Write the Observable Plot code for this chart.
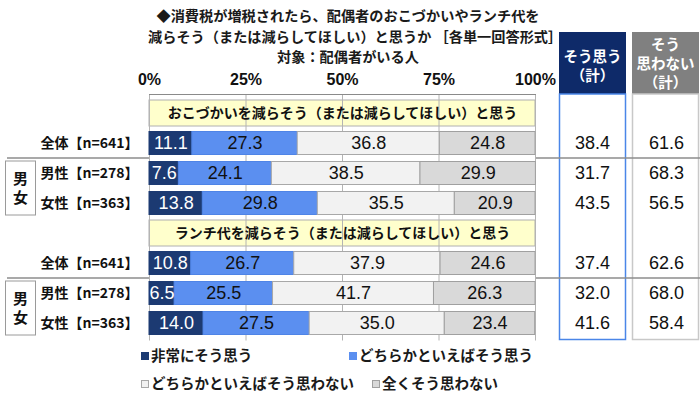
<!DOCTYPE html>
<html><head><meta charset="utf-8">
<script src="https://cdn.jsdelivr.net/npm/d3@7"></script>
<script src="https://cdn.jsdelivr.net/npm/@observablehq/plot@0.6"></script>
<style>
body{margin:0;background:#fff;}
#wrap{position:relative;width:700px;height:396px;overflow:hidden;background:#fff;}
.jp{font-family:"Noto Sans CJK JP",sans-serif;font-weight:700;color:#1a1a1a;}
#title{position:absolute;left:148px;width:400px;top:5px;text-align:center;font-size:14.2px;line-height:20.5px;white-space:nowrap;}
.leg{position:absolute;font-size:14.5px;white-space:nowrap;line-height:16px;}
.sw{display:inline-block;width:8px;height:8px;margin-right:2px;vertical-align:1px;box-sizing:border-box;border:1px solid;}
#chart{position:absolute;left:0;top:0;}
</style></head>
<body><div id="wrap"><div id="chart"></div></div>
<script>
// ---- data ----
const titleLines = [
  "◆消費税が増税されたら、配偶者のおこづかいやランチ代を",
  "減らそう（または減らしてほしい）と思うか ［各単一回答形式］",
  "対象：配偶者がいる人"
];
const questionLabels = [
  "おこづかいを減らそう（または減らしてほしい）と思う",
  "ランチ代を減らそう（または減らしてほしい）と思う"
];
const segmentLabels = ["全体【n=641】", "男性【n=278】", "女性【n=363】"];
const sexLabel = ["男", "女"];
const answerCategories = ["非常にそう思う", "どちらかといえばそう思う", "どちらかといえばそう思わない", "全くそう思わない"];
const okozukaiValues = [
  [11.1, 27.3, 36.8, 24.8],
  [7.6, 24.1, 38.5, 29.9],
  [13.8, 29.8, 35.5, 20.9]
];
const lunchValues = [
  [10.8, 26.7, 37.9, 24.6],
  [6.5, 25.5, 41.7, 26.3],
  [14.0, 27.5, 35.0, 23.4]
];
const okozukaiAgree = [38.4, 31.7, 43.5];
const okozukaiDisagree = [61.6, 68.3, 56.5];
const lunchAgree = [37.4, 32.0, 41.6];
const lunchDisagree = [62.6, 68.0, 58.4];
const xTicks = [0, 25, 50, 75, 100];
const agreeHeader = ["そう思う", "（計）"];
const disagreeHeader = ["そう", "思わない", "（計）"];

// ---- styles ----
const colors = ["#1c3a72", "#5b8ff0", "#f2f2f2", "#d9d9d9"];
const strokes = ["#1c3a72", "#4f84e6", "#a8a8a8", "#a0a0a0"];
const textColors = ["#ffffff", "#111111", "#111111", "#111111"];
const numFont = '"Liberation Sans Narrow", "Arial Narrow", "Liberation Sans", Arial, sans-serif';
const jpFont = '"Noto Sans CJK JP", sans-serif';

// ---- build tables ----
const groupValues = [okozukaiValues, lunchValues];
const groupAgree = [okozukaiAgree, lunchAgree];
const groupDisagree = [okozukaiDisagree, lunchDisagree];
const rowIds = [], headers = [], segs = [], rowsInfo = [];
questionLabels.forEach((q, g) => {
  rowIds.push(`h${g}`);
  headers.push({id: `h${g}`, text: q});
  segmentLabels.forEach((lab, r) => {
    const id = `r${g}-${r}`;
    rowIds.push(id);
    rowsInfo.push({id, label: lab, agree: groupAgree[g][r], disagree: groupDisagree[g][r]});
    let acc = 0;
    groupValues[g][r].forEach((v, c) => { segs.push({id, c, x1: acc, x2: acc + v, v}); acc += v; });
  });
});

const plot = Plot.plot({
  width: 700, height: 396,
  marginTop: 94.5, marginBottom: 55.5, marginLeft: 149, marginRight: 165,
  style: {background: "transparent", overflow: "visible"},
  x: {domain: [0, 100], axis: null},
  y: {type: "band", domain: rowIds, padding: 0, axis: null},
  color: {type: "identity"},
  marks: [
    Plot.barX(headers, {x1: 0, x2: 100, y: "id", fill: "#ffffcc", stroke: "#b0b0b0", insetTop: 2, insetBottom: 2}),
    Plot.ruleX(xTicks, {stroke: "#b4b4b4"}),
    Plot.barX(segs, {x1: "x1", x2: "x2", y: "id", fill: d => colors[d.c], stroke: d => strokes[d.c], strokeWidth: 1, insetTop: 3.5, insetBottom: 3.5}),
    Plot.text(segs, {x: d => (d.x1 + d.x2) / 2, y: "id", text: d => d.v.toFixed(1), fill: d => textColors[d.c], fontSize: 18, fontFamily: numFont}),
    Plot.text(headers, {x: 50, y: "id", text: "text", fill: "#111", fontSize: 14, fontWeight: "bold", fontFamily: jpFont}),
    Plot.text(rowsInfo, {x: 0, y: "id", text: "label", textAnchor: "end", dx: -11, fill: "#111", fontSize: 14, fontWeight: "bold", fontFamily: jpFont}),
    Plot.text(rowsInfo, {x: 100, y: "id", text: d => d.agree.toFixed(1), dx: 57, fill: "#111", fontSize: 18, fontFamily: numFont}),
    Plot.text(rowsInfo, {x: 100, y: "id", text: d => d.disagree.toFixed(1), dx: 131, fill: "#111", fontSize: 18, fontFamily: numFont}),
    Plot.axisX(xTicks, {anchor: "top", tickSize: 0, tickPadding: 10, tickFormat: d => `${d}%`, fontSize: 16, fontWeight: "bold", fontFamily: numFont, fill: "#111", label: null})
  ]
});
document.getElementById("chart").appendChild(plot);

// ---- decorations (layout) ----
const svg = d3.select(plot);
const ys = plot.scale("y");
const bw = ys.bandwidth;
const yTop = id => ys.apply(id);
const deco = svg.append("g");
deco.append("line").attr("x1", 149).attr("x2", 536).attr("y1", 94.5).attr("y2", 94.5).attr("stroke", "#8a8a8a");
deco.append("rect").attr("x", 559).attr("y", 32).attr("width", 67).attr("height", 62).attr("fill", "#0e2a69");
deco.append("rect").attr("x", 559.5).attr("y", 94).attr("width", 66).attr("height", 245.5).attr("fill", "none").attr("stroke", "#4a86e8").attr("stroke-width", 1.5);
deco.append("rect").attr("x", 632).attr("y", 32).attr("width", 67).attr("height", 62).attr("fill", "#808080");
deco.append("rect").attr("x", 632.5).attr("y", 94).attr("width", 66).attr("height", 245.5).attr("fill", "none").attr("stroke", "#c8c8c8").attr("stroke-width", 1.5);
agreeHeader.forEach((t, i) => deco.append("text").attr("x", 592.5).attr("y", 57 + i * 19).attr("dy", "0.35em")
  .attr("text-anchor", "middle").attr("fill", "#fff").attr("font-family", jpFont).attr("font-weight", "bold").attr("font-size", 14.5).text(t));
disagreeHeader.forEach((t, i) => deco.append("text").attr("x", 665.5).attr("y", 45 + i * 19).attr("dy", "0.35em")
  .attr("text-anchor", "middle").attr("fill", "#fff").attr("font-family", jpFont).attr("font-weight", "bold").attr("font-size", 14.5).text(t));
questionLabels.forEach((q, g) => {
  const ySep = yTop(`r${g}-1`);
  deco.append("line").attr("x1", 7).attr("x2", 149).attr("y1", ySep).attr("y2", ySep).attr("stroke", "#8c8c8c").attr("stroke-width", 1.5);
  deco.append("line").attr("x1", 536).attr("x2", 700).attr("y1", ySep).attr("y2", ySep).attr("stroke", "#8c8c8c").attr("stroke-width", 1.5);
  const b1 = ySep + 3, b2 = yTop(`r${g}-2`) + bw - 3;
  deco.append("rect").attr("x", 5.5).attr("y", b1).attr("width", 30).attr("height", b2 - b1).attr("fill", "#fff").attr("stroke", "#9a9a9a");
  const cy = (b1 + b2) / 2;
  sexLabel.forEach((t, i) => deco.append("text").attr("x", 20.5).attr("y", cy + (i ? 9.5 : -9.5)).attr("dy", "0.35em")
    .attr("text-anchor", "middle").attr("fill", "#111").attr("font-family", jpFont).attr("font-weight", "bold").attr("font-size", 15).text(t));
});

// ---- title ----
const wrap = document.getElementById("wrap");
const title = document.createElement("div");
title.id = "title"; title.className = "jp";
title.innerHTML = titleLines.map(t => `<div>${t}</div>`).join("");
wrap.appendChild(title);

// ---- legend ----
const legendPos = [[141, 347], [349, 347], [141, 375], [372, 375]];
answerCategories.forEach((cat, c) => {
  const el = document.createElement("div");
  el.className = "leg jp";
  el.style.left = legendPos[c][0] + "px";
  el.style.top = legendPos[c][1] + "px";
  el.innerHTML = `<span class="sw" style="background:${colors[c]};border-color:${c < 2 ? colors[c] : strokes[c]}"></span>${cat}`;
  wrap.appendChild(el);
});
</script>
</body></html>
